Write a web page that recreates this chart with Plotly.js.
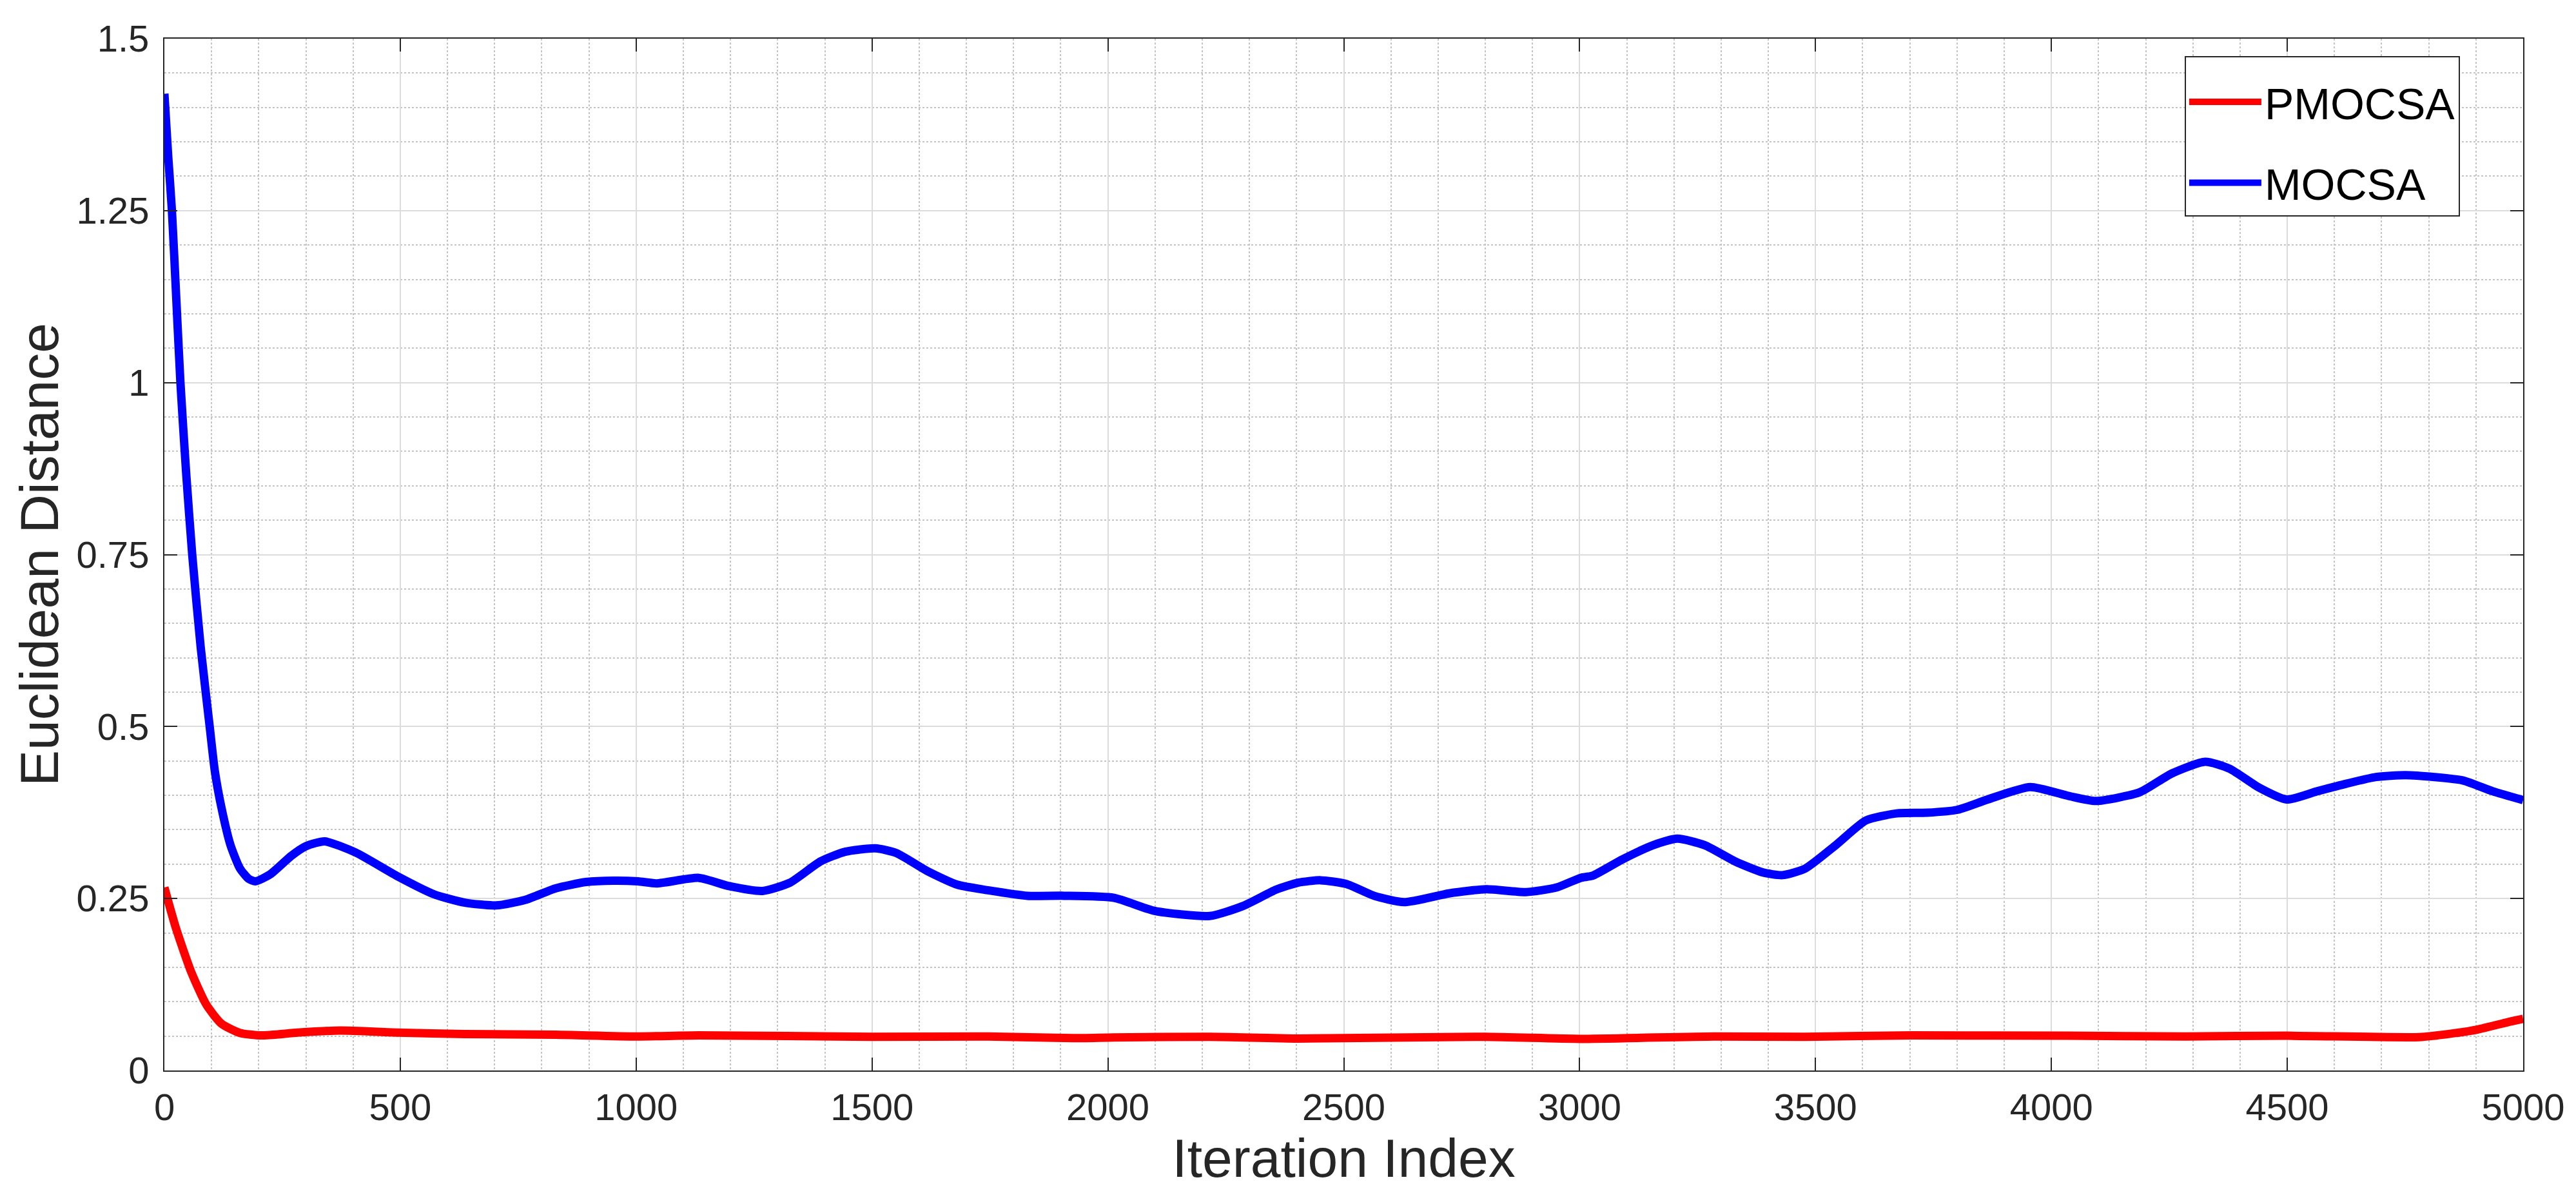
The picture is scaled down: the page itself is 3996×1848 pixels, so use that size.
<!DOCTYPE html>
<html>
<head>
<meta charset="utf-8">
<script src="https://cdn.plot.ly/plotly-3.0.1.min.js"></script>
<style>html,body{margin:0;padding:0;background:#fff;}#chart{width:3996px;height:1848px;}</style>
</head>
<body>
<div id="chart"></div>
<script>
// ---- data ----
const seriesNames = ["PMOCSA", "MOCSA"];

const pmocsaIter = [0, 24, 57, 89, 121, 160, 205, 282, 372, 495, 637, 830, 1000, 1133, 1500, 1746, 1926, 2013, 2216, 2403, 2800, 3000, 3285, 3478, 3704, 4038, 4285, 4500, 4780, 4842, 4904, 4966, 5000];
const pmocsaDist = [0.266, 0.208, 0.143, 0.0956, 0.068, 0.0546, 0.051, 0.055, 0.058, 0.055, 0.053, 0.052, 0.0495, 0.051, 0.049, 0.0495, 0.047, 0.048, 0.049, 0.0464, 0.049, 0.046, 0.0495, 0.049, 0.051, 0.0505, 0.0495, 0.0505, 0.0485, 0.053, 0.0597, 0.070, 0.075];

const mocsaIter = [0, 8, 16, 25, 34, 46, 59, 77, 96, 107, 121, 140, 160, 178, 193, 224, 269, 300, 340, 405, 495, 572, 637, 704, 765, 830, 894, 952, 1004, 1043, 1133, 1197, 1268, 1326, 1391, 1443, 1507, 1552, 1617, 1681, 1746, 1829, 1907, 2013, 2099, 2216, 2286, 2357, 2403, 2451, 2506, 2564, 2628, 2725, 2802, 2886, 2951, 3002, 3027, 3091, 3156, 3207, 3265, 3330, 3388, 3430, 3478, 3543, 3607, 3672, 3736, 3801, 3865, 3955, 4037, 4094, 4187, 4255, 4326, 4378, 4440, 4499, 4564, 4626, 4688, 4750, 4812, 4873, 4935, 5000];
const mocsaDist = [1.42, 1.33, 1.25, 1.125, 1.0, 0.87, 0.75, 0.615, 0.5, 0.435, 0.382, 0.328, 0.294, 0.279, 0.275, 0.285, 0.312, 0.326, 0.333, 0.317, 0.282, 0.256, 0.244, 0.240, 0.248, 0.265, 0.274, 0.276, 0.275, 0.272, 0.280, 0.268, 0.261, 0.273, 0.304, 0.318, 0.323, 0.316, 0.290, 0.270, 0.262, 0.254, 0.254, 0.251, 0.232, 0.2246, 0.239, 0.263, 0.273, 0.2765, 0.271, 0.254, 0.2447, 0.2577, 0.2635, 0.2594, 0.266, 0.280, 0.283, 0.307, 0.3276, 0.337, 0.3276, 0.3038, 0.288, 0.284, 0.2935, 0.3276, 0.3635, 0.3737, 0.3747, 0.379, 0.394, 0.412, 0.399, 0.3918, 0.4044, 0.4317, 0.4488, 0.4386, 0.4113, 0.394, 0.406, 0.417, 0.4266, 0.4294, 0.4266, 0.4215, 0.406, 0.393];

const xTickVals = [0, 500, 1000, 1500, 2000, 2500, 3000, 3500, 4000, 4500, 5000];
const xTickText = ["0", "500", "1000", "1500", "2000", "2500", "3000", "3500", "4000", "4500", "5000"];
const yTickVals = [0, 0.25, 0.5, 0.75, 1, 1.25, 1.5];
const yTickText = ["0", "0.25", "0.5", "0.75", "1", "1.25", "1.5"];

const xTitle = "Iteration Index";
const yTitle = "Euclidean Distance";

// ---- chart ----
const FONT = '"Liberation Sans", Arial, Helvetica, sans-serif';
const INK = '#262626';

const traces = [
  {
    x: pmocsaIter, y: pmocsaDist, name: seriesNames[0], type: 'scatter', mode: 'lines',
    line: {color: '#ff0000', width: 13, shape: 'spline', smoothing: 0.6},
    legendgroup: 'a'
  },
  {
    x: mocsaIter, y: mocsaDist, name: seriesNames[1], type: 'scatter', mode: 'lines',
    line: {color: '#0000ff', width: 13, shape: 'spline', smoothing: 0.6},
    legendgroup: 'b'
  }
];

const axisCommon = {
  showline: true, linecolor: INK, linewidth: 2, mirror: 'ticks',
  ticks: 'inside', ticklen: 20, tickwidth: 2, tickcolor: INK,
  showgrid: true, gridcolor: '#dcdcdc', gridwidth: 2,
  zeroline: false,
  tickfont: {family: FONT, size: 58, color: INK},
  fixedrange: true
};

const layout = {
  width: 3996, height: 1848,
  paper_bgcolor: '#ffffff', plot_bgcolor: '#ffffff',
  margin: {l: 255, r: 82, t: 60, b: 187, pad: 0},
  showlegend: true,
  xaxis: Object.assign({}, axisCommon, {
    range: [0, 5000], tickmode: 'array', tickvals: xTickVals, ticktext: xTickText,
    ticklabelstandoff: 5,
    minor: {dtick: 100, showgrid: true, gridcolor: '#c4c4c4', gridwidth: 2, griddash: 'dot', ticks: ''},
    title: {text: xTitle, font: {family: FONT, size: 84, color: INK}, standoff: 0}
  }),
  yaxis: Object.assign({}, axisCommon, {
    range: [0, 1.5], tickmode: 'array', tickvals: yTickVals, ticktext: yTickText,
    ticklabelstandoff: 10,
    minor: {dtick: 0.05, showgrid: true, gridcolor: '#c4c4c4', gridwidth: 2, griddash: 'dot', ticks: ''},
    title: {text: yTitle, font: {family: FONT, size: 84, color: INK}, standoff: 0}
  }),
  legend: {
    x: 0.8565, y: 0.983, xanchor: 'left', yanchor: 'top',
    bgcolor: '#ffffff', bordercolor: INK, borderwidth: 2,
    font: {family: FONT, size: 68, color: '#000000'},
    title: {text: ' ', font: {family: FONT, size: 14}},
    traceorder: 'grouped', tracegroupgap: 34, itemwidth: 112
  }
};

Plotly.newPlot('chart', traces, layout, {staticPlot: true, displayModeBar: false});
</script>
</body>
</html>
